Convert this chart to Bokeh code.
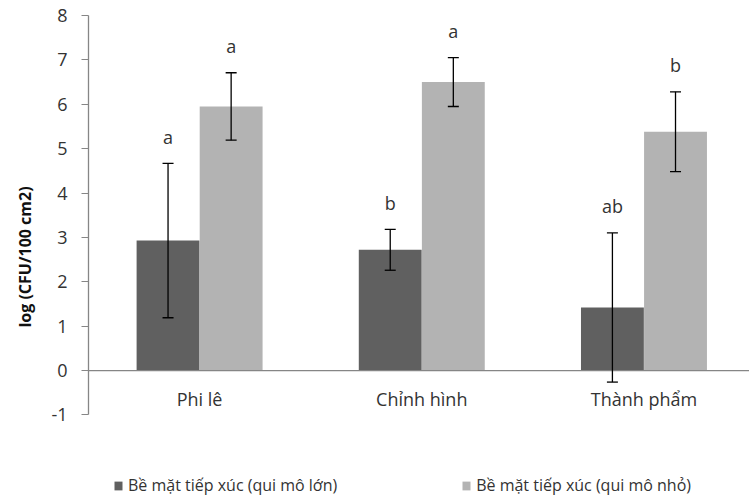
from bokeh.plotting import figure
from bokeh.models import ColumnDataSource, Range1d, Whisker, TeeHead, Legend, LegendItem, Span, FixedTicker
from bokeh.core.properties import value
from bokeh.transform import dodge
from bokeh.embed import file_html
from bokeh.resources import INLINE

categories = ["Phi lê", "Chỉnh hình", "Thành phẩm"]
series_names = ["Bề mặt tiếp xúc (qui mô lớn)", "Bề mặt tiếp xúc (qui mô nhỏ)"]
large_mean = [2.93, 2.72, 1.42]
large_err = [1.74, 0.46, 1.68]
small_mean = [5.95, 6.50, 5.38]
small_err = [0.76, 0.55, 0.90]
large_letters = ["a", "b", "ab"]
small_letters = ["a", "a", "b"]
y_ticks = [-1, 0, 1, 2, 3, 4, 5, 6, 7, 8]

FONT = "Open Sans"
DARK = "#606060"
LIGHT = "#b3b3b3"
AXIS = "#868686"
TXT = "#333333"

xc = [i + 0.5 for i in range(len(categories))]

def src(mean, err, letters):
    return ColumnDataSource(dict(
        x=xc, top=mean,
        upper=[m + e for m, e in zip(mean, err)],
        lower=[m - e for m, e in zip(mean, err)],
        ly=[m + e + 0.6 for m, e in zip(mean, err)],
        letter=letters,
    ))

s_large = src(large_mean, large_err, large_letters)
s_small = src(small_mean, small_err, small_letters)

p = figure(width=749, height=498, output_backend="svg", toolbar_location=None,
           x_range=Range1d(0, 2.975), y_range=Range1d(-2.883, 8), x_axis_location=None,
           min_border_left=88, min_border_right=0, min_border_top=15, min_border_bottom=0)
p.outline_line_color = None
p.xgrid.visible = False
p.ygrid.visible = False

off = 0.142
bw = 0.283
r1 = p.vbar(x=dodge("x", -off, range=p.x_range), top="top", bottom=0, width=bw,
            source=s_large, fill_color=DARK, line_color=None)
r2 = p.vbar(x=dodge("x", off, range=p.x_range), top="top", bottom=0, width=bw,
            source=s_small, fill_color=LIGHT, line_color=None)

p.add_layout(Span(location=0, dimension="width", line_color=AXIS, line_width=1.3))

for s, o in ((s_large, -off), (s_small, off)):
    w = Whisker(base=dodge("x", o, range=p.x_range), upper="upper", lower="lower", source=s,
                line_color="black", line_width=1.3, level="overlay",
                upper_head=TeeHead(size=11, line_color="black", line_width=1.3),
                lower_head=TeeHead(size=11, line_color="black", line_width=1.3))
    p.add_layout(w)
    p.text(x=dodge("x", o, range=p.x_range), y="ly", text="letter", source=s,
           text_font=value(FONT), text_font_size="18px", text_color=TXT,
           text_align="center", text_baseline="middle")

cat_src = ColumnDataSource(dict(x=xc, y=[-0.65] * 3, t=categories))
p.text(x="x", y="y", text="t", source=cat_src, text_font=value(FONT),
       text_font_size="18px", text_color=TXT, text_align="center", text_baseline="middle")

ya = p.yaxis[0]
ya.ticker = FixedTicker(ticks=y_ticks)
ya.major_label_overrides = {t: str(t) for t in y_ticks}
ya.bounds = (y_ticks[0], y_ticks[-1])
ya.axis_line_color = AXIS
ya.axis_line_width = 1.3
ya.major_tick_line_color = AXIS
ya.major_tick_in = 0
ya.major_tick_out = 7
ya.minor_tick_line_color = None
ya.major_label_text_font = FONT
ya.major_label_text_font_size = "18px"
ya.major_label_text_color = TXT
ya.major_label_standoff = 14
ya.axis_label = "log (CFU/100 cm2)"
ya.axis_label_text_font = FONT
ya.axis_label_text_font_size = "16px"
ya.axis_label_text_font_style = "bold"
ya.axis_label_text_color = "#111111"
ya.axis_label_standoff = 12

legend = Legend(items=[LegendItem(label=series_names[0], renderers=[r1]),
                       LegendItem(label=series_names[1], renderers=[r2])],
                location=(25, 2), orientation="horizontal",
                spacing=124, padding=0, margin=0, border_line_color=None,
                background_fill_alpha=0, glyph_width=10, glyph_height=11,
                label_standoff=5, label_text_font=FONT, label_text_font_size="16px",
                label_text_color=TXT)
p.add_layout(legend)

open("out.html", "w").write(file_html(p, INLINE))
